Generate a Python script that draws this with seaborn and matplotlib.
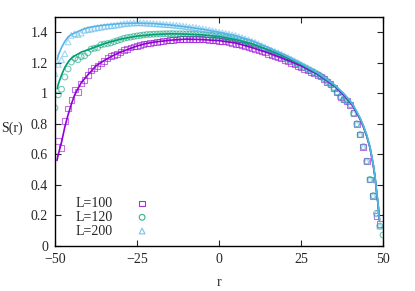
import numpy as np
import pandas as pd
import matplotlib
matplotlib.use('Agg')
import matplotlib.pyplot as plt
import seaborn as sns

# ---- data ----
r100 = list(range(-49, 50))
s100 = [0.69, 0.64, 0.82, 0.90, 0.955, 1.025, 1.01, 1.065, 1.085, 1.12,
        1.15, 1.165, 1.18, 1.195, 1.21, 1.232, 1.245, 1.252, 1.26, 1.27,
        1.285, 1.29, 1.30, 1.307, 1.312, 1.316, 1.322, 1.326, 1.33, 1.333,
        1.337, 1.34, 1.343, 1.346, 1.348, 1.35, 1.352, 1.354, 1.355, 1.355,
        1.356, 1.356, 1.355, 1.355, 1.354, 1.352, 1.351, 1.35, 1.348, 1.345,
        1.343, 1.34, 1.336, 1.33, 1.325, 1.32, 1.316, 1.31, 1.305, 1.297,
        1.29, 1.282, 1.275, 1.267, 1.26, 1.252, 1.244, 1.236, 1.228, 1.218,
        1.208, 1.198, 1.19, 1.18, 1.17, 1.16, 1.15, 1.14, 1.13, 1.12,
        1.11, 1.095, 1.075, 1.06, 1.035, 1.005, 0.975, 0.96, 0.95, 0.925,
        0.87, 0.80, 0.73, 0.65, 0.555, 0.436, 0.327, 0.196, 0.145]

r120 = list(range(-50, 51))
s120 = [0.905, 0.99, 1.027, 1.107, 1.16, 1.205, 1.23, 1.22, 1.24, 1.245,
        1.265, 1.29, 1.295, 1.30, 1.318, 1.322, 1.326, 1.33, 1.338, 1.345,
        1.352, 1.36, 1.365, 1.368, 1.372, 1.376, 1.379, 1.382, 1.385, 1.386,
        1.387, 1.388, 1.389, 1.39, 1.39, 1.391, 1.391, 1.39, 1.39, 1.39,
        1.389, 1.388, 1.387, 1.386, 1.385, 1.384, 1.383, 1.382, 1.38, 1.377,
        1.373, 1.37, 1.366, 1.361, 1.356, 1.351, 1.345, 1.34, 1.335, 1.33,
        1.322, 1.315, 1.308, 1.298, 1.29, 1.282, 1.272, 1.262, 1.254, 1.245,
        1.235, 1.225, 1.214, 1.203, 1.193, 1.182, 1.17, 1.159, 1.148, 1.137,
        1.125, 1.112, 1.097, 1.078, 1.06, 1.037, 1.007, 0.977, 0.96, 0.95,
        0.925, 0.87, 0.80, 0.73, 0.65, 0.555, 0.436, 0.33, 0.214, 0.13,
        0.072]

r200 = list(range(-50, 50))
s200 = [1.13, 1.19, 1.22, 1.26, 1.337, 1.38, 1.39, 1.385, 1.395, 1.413,
        1.418, 1.42, 1.425, 1.43, 1.433, 1.437, 1.44, 1.443, 1.445, 1.448,
        1.452, 1.456, 1.458, 1.46, 1.461, 1.462, 1.462, 1.461, 1.46, 1.458,
        1.457, 1.455, 1.454, 1.452, 1.45, 1.449, 1.447, 1.445, 1.443, 1.44,
        1.437, 1.434, 1.432, 1.43, 1.426, 1.422, 1.418, 1.414, 1.41, 1.405,
        1.40, 1.396, 1.392, 1.388, 1.383, 1.378, 1.371, 1.364, 1.357, 1.35,
        1.341, 1.333, 1.324, 1.313, 1.302, 1.292, 1.283, 1.274, 1.266, 1.255,
        1.245, 1.235, 1.224, 1.213, 1.202, 1.19, 1.178, 1.167, 1.156, 1.144,
        1.132, 1.12, 1.103, 1.08, 1.062, 1.04, 1.01, 0.98, 0.962, 0.952,
        0.928, 0.872, 0.80, 0.73, 0.65, 0.556, 0.436, 0.33, 0.214, 0.13]

# fitted curves
rl100 = [-49.4, -49, -48, -47, -46, -45, -44, -42, -40, -37.5, -35, -32.5, -30,
         -27.5, -25, -22.5, -20, -15, -10, -5, 0, 5, 10, 15, 20, 25, 30, 35,
         38, 40, 41, 42, 43, 44, 45, 46, 47, 47.5, 48, 48.5, 48.9]
sl100 = [0.56, 0.60, 0.68, 0.78, 0.86, 0.93, 0.99, 1.07, 1.12, 1.18, 1.215,
         1.245, 1.27, 1.29, 1.31, 1.325, 1.335, 1.348, 1.355, 1.352, 1.345,
         1.33, 1.30, 1.265, 1.225, 1.18, 1.125, 1.05, 0.99, 0.94, 0.91, 0.87,
         0.83, 0.78, 0.72, 0.645, 0.53, 0.46, 0.36, 0.27, 0.17]

rl120 = [-49.3, -49, -48, -47, -46, -45, -44, -42, -40, -37.5, -35, -32.5, -30,
         -25, -20, -15, -10, -5, 0, 5, 10, 15, 20, 25, 30, 35, 38, 40, 41, 42,
         43, 44, 45, 46, 47, 47.5, 48, 48.5, 48.9]
sl120 = [1.03, 1.06, 1.12, 1.17, 1.205, 1.23, 1.245, 1.27, 1.285, 1.305,
         1.325, 1.34, 1.355, 1.375, 1.385, 1.39, 1.388, 1.383, 1.372, 1.352,
         1.325, 1.285, 1.24, 1.19, 1.13, 1.055, 0.995, 0.945, 0.915, 0.875,
         0.835, 0.785, 0.725, 0.648, 0.535, 0.46, 0.36, 0.27, 0.17]

rl200 = [-49.3, -49, -48, -47, -46, -45, -44, -42, -40, -37.5, -35, -30, -25,
         -20, -15, -10, -5, 0, 5, 10, 15, 20, 25, 30, 35, 38, 40, 41, 42, 43,
         44, 45, 46, 47, 47.5, 48, 48.5, 48.9]
sl200 = [1.22, 1.25, 1.30, 1.34, 1.37, 1.385, 1.395, 1.415, 1.43, 1.44, 1.447,
         1.457, 1.46, 1.457, 1.448, 1.435, 1.42, 1.40, 1.378, 1.345, 1.30,
         1.25, 1.195, 1.135, 1.06, 1.0, 0.95, 0.92, 0.88, 0.84, 0.79, 0.73,
         0.65, 0.54, 0.465, 0.365, 0.275, 0.17]

labels = ['L=100', 'L=120', 'L=200']
colors = ['#9400d3', '#009e73', '#56b4e9']
markers = ['s', 'o', '^']

sns.set_style('ticks')
plt.rcParams['font.family'] = ['Liberation Serif', 'DejaVu Serif']
plt.rcParams['font.size'] = 10

fig = plt.figure(figsize=(4.15, 2.91), dpi=100)
ax = fig.add_axes([0.1325, 0.1546, 0.7905, 0.787])

points = [(r100, s100), (r120, s120), (r200, s200)]
lines = [(rl100, sl100), (rl120, sl120), (rl200, sl200)]

for (rp, sp), lab, c, m in zip(points, labels, colors, markers):
    sns.scatterplot(x=rp, y=sp, ax=ax, marker=m, s=17, facecolor='none',
                    edgecolor=c, linewidth=0.8, alpha=0.55, label=lab, zorder=2)

for (rl, sl), c in zip(lines, colors):
    sns.lineplot(x=rl, y=sl, ax=ax, color=c, lw=1.2, zorder=3)

ax.set_xlim(-50, 50)
ax.set_ylim(0, 1.5)
ax.set_xticks([-50, -25, 0, 25, 50])
ax.set_yticks([0, 0.2, 0.4, 0.6, 0.8, 1, 1.2, 1.4])
ax.set_yticklabels(['0', '0.2', '0.4', '0.6', '0.8', '1', '1.2', '1.4'])
ax.tick_params(direction='in', length=4, width=0.8, top=True, right=True,
               labelsize=10, pad=5)
for sp in ax.spines.values():
    sp.set_linewidth(1.0)
    sp.set_color('black')
ax.set_xlabel('r', fontsize=10, labelpad=7)
ax.set_ylabel('S(r)', fontsize=10, rotation=0, va='center', ha='center')
ax.yaxis.set_label_coords(-0.131, 0.515)

leg = ax.legend(loc='lower left', bbox_to_anchor=(0.025, -0.018), frameon=False,
                markerfirst=False, handletextpad=1.6, labelspacing=0.05,
                fontsize=10, handlelength=1.0)
for h in leg.legend_handles:
    h.set_alpha(0.8)

fig.savefig('out.png', dpi=100)
